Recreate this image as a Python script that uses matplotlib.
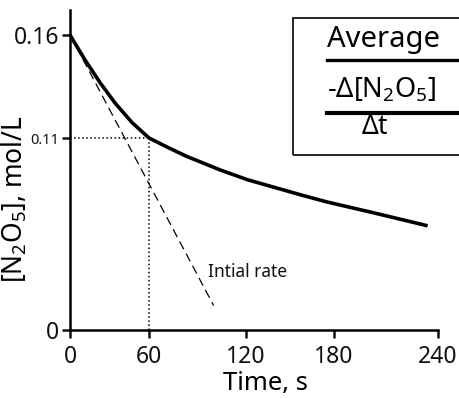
"""Decomposition of N2O5: concentration vs time with the initial rate tangent."""

import matplotlib
matplotlib.use("Agg")
import matplotlib.pyplot as plt
import numpy as np
from matplotlib.patches import Rectangle
from matplotlib.lines import Line2D

# curve
time_s = [0, 11.4, 22.8, 34.2, 47.1, 60, 73, 83.5, 104, 121, 157, 175, 203, 234]
conc = [0.160, 0.1479, 0.1369, 0.1270, 0.1175, 0.110, 0.1040, 0.0994, 0.0917,
        0.0861, 0.0775, 0.0734, 0.0671, 0.0597]

# tangent at t = 0 (initial rate)
rate_time = [0, 100]
rate_conc = [0.160, 0.014]

# point marked with the dotted guides
mark_time = 60
mark_conc = 0.11

x_ticks = [0, 60, 120, 180, 240]
x_tick_labels = ["0", "60", "120", "180", "240"]
y_ticks = [0, 0.11, 0.16]
y_tick_labels = ["0", "0.11", "0.16"]

# the original axes are hand drawn, tick spacing is uneven -> piecewise scale
x_knots = [0, 60, 120, 180, 240, 300]
x_pos = [0, 79, 176, 264, 368, 472]
y_knots = [0, 0.11, 0.16, 0.2]
y_pos = [0, 192, 295, 377]

plt.rcParams["font.family"] = ["Noto Sans", "DejaVu Sans"]
plt.rcParams["mathtext.fontset"] = "custom"
plt.rcParams["mathtext.rm"] = "Noto Sans"
plt.rcParams["mathtext.default"] = "regular"

fig = plt.figure(figsize=(4.59, 3.99), dpi=100)
ax = fig.add_axes([70 / 459, 1 - 330 / 399, 368 / 459, 320 / 399])

ax.set_xscale("function", functions=(lambda v: np.interp(v, x_knots, x_pos),
                                      lambda p: np.interp(p, x_pos, x_knots)))
ax.set_yscale("function", functions=(lambda v: np.interp(v, y_knots, y_pos),
                                      lambda p: np.interp(p, y_pos, y_knots)))

ax.plot(time_s, conc, color="black", linewidth=2.6, solid_capstyle="butt", solid_joinstyle="round")
ax.plot(rate_time, rate_conc, color="black", linewidth=0.9, linestyle=(0, (7, 4)))
ax.plot([0, mark_time], [mark_conc, mark_conc], color="black", linewidth=1.1, linestyle=":")
ax.plot([mark_time, mark_time], [0, mark_conc], color="black", linewidth=1.1, linestyle=":")

ax.text(96.5, 0.0333, "Intial rate", fontsize=12.5, va="center", ha="left", color="#111111")

ax.set_xlim(0, 240)
ax.set_ylim(0, np.interp(320, y_pos, y_knots))
ax.set_xticks(x_ticks, x_tick_labels)
ax.set_yticks(y_ticks, y_tick_labels)

ax.spines["top"].set_visible(False)
ax.spines["right"].set_visible(False)
for side in ["left", "bottom"]:
    ax.spines[side].set_linewidth(1.8)
ax.tick_params(direction="out", length=6, width=1.8, labelsize=16.5, colors="#111111")
ax.tick_params(axis="x", pad=5)
ax.tick_params(axis="y", pad=2)
# the 0.11 label is written smaller in the original
ax.yaxis.get_major_ticks()[1].label1.set_fontsize(10.5)

ax.set_xlabel("Time, s", fontsize=18.5)
ax.xaxis.set_label_coords(0.532, -0.128)
ax.set_ylabel("[N$_2$O$_5$], mol/L", fontsize=19)
ax.yaxis.set_label_coords(-0.11, 0.41)

# box with the average rate expression, cut off at the right edge
fig.add_artist(Rectangle((293 / 459, 1 - 155 / 399), 0.6, 137 / 399, transform=fig.transFigure,
                         fill=False, edgecolor="black", linewidth=1.2))
fig.text(327 / 459, 1 - 47 / 399, "Average", fontsize=21, va="baseline", ha="left")
fig.add_artist(Line2D([327 / 459, 1.1], [1 - 60 / 399] * 2, transform=fig.transFigure,
                      color="black", linewidth=2.4))
fig.text(327 / 459, 1 - 97 / 399, r"-$\Delta$[N$_2$O$_5$]", fontsize=19.5, va="baseline", ha="left")
fig.add_artist(Line2D([327 / 459, 1.1], [1 - 113 / 399] * 2, transform=fig.transFigure,
                      color="black", linewidth=3))
fig.text(375 / 459, 1 - 127 / 399, r"$\Delta$t", fontsize=19, va="center", ha="center")

fig.savefig("out.png", dpi=100)
